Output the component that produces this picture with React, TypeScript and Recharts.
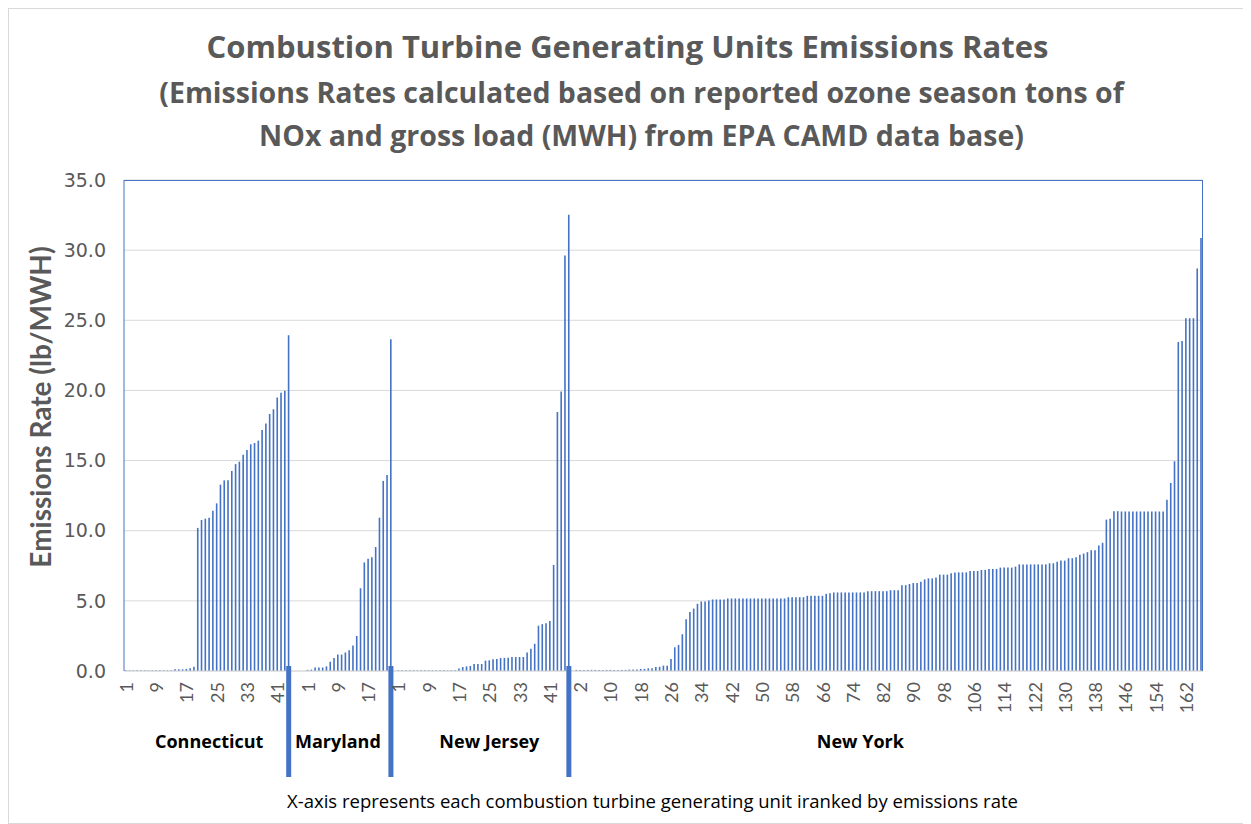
import React from "react";
import { Bar, BarChart, CartesianGrid, XAxis, YAxis } from "recharts";

// ranked emissions rates (lb/MWH) per state, null = empty slot
const ctRates = [
  0.05, 0.05, 0.05, 0.05, 0.05, 0.05, 0.05, 0.05, 0.05, 0.05, 0.05, 0.05, 0.05, 0.12, 0.12, 0.12,
  0.15, 0.2, 0.3, 10.2, 10.76, 10.86, 10.93, 11.43, 11.95, 13.28, 13.59, 13.59, 14.26, 14.75, 14.92,
  15.42, 15.75, 16.16, 16.25, 16.42, 17.18, 17.65, 18.32, 18.65, 19.5, 19.84, 19.98, 23.93,
  null, null, null, null,
];

const mdRates = [
  0.08, 0.1, 0.25, 0.25, 0.25, 0.33, 0.66, 0.92, 1.17, 1.17, 1.32, 1.48, 1.81, 2.5, 5.9, 7.74, 8.0,
  8.1, 8.84, 10.93, 13.55, 13.98, 23.64, null,
];

const njRates = [
  0.05, 0.05, 0.05, 0.05, 0.05, 0.05, 0.05, 0.05, 0.05, 0.05, 0.05, 0.05, 0.05, 0.05, 0.05, 0.06,
  0.18, 0.28, 0.33, 0.36, 0.5, 0.5, 0.5, 0.74, 0.76, 0.84, 0.86, 0.92, 0.93, 0.94, 1.0, 1.0, 1.0, 1.0,
  1.32, 1.58, 1.94, 3.23, 3.34, 3.41, 3.57, 7.56, 18.47, 19.92, 29.62, 32.53, null,
];

const nyRates = [
  0.08, 0.08, 0.08, 0.08, 0.08, 0.08, 0.08, 0.08, 0.08, 0.08, 0.08, 0.08, 0.08, 0.08, 0.1, 0.1, 0.1,
  0.15, 0.15, 0.19, 0.2, 0.29, 0.3, 0.38, 0.38, 0.86, 1.69, 1.86, 2.62, 3.69, 4.21, 4.45, 4.79, 4.95,
  4.96, 5.02, 5.1, 5.1, 5.1, 5.1, 5.17, 5.17, 5.17, 5.17, 5.17, 5.17, 5.17, 5.17, 5.17, 5.17, 5.17,
  5.17, 5.17, 5.17, 5.17, 5.17, 5.26, 5.26, 5.26, 5.26, 5.26, 5.36, 5.36, 5.36, 5.36, 5.36, 5.5, 5.55,
  5.6, 5.6, 5.6, 5.6, 5.6, 5.6, 5.6, 5.6, 5.6, 5.69, 5.69, 5.69, 5.69, 5.69, 5.69, 5.76, 5.76, 5.76,
  6.12, 6.12, 6.2, 6.27, 6.27, 6.36, 6.53, 6.6, 6.6, 6.67, 6.87, 6.87, 6.87, 6.96, 7.03, 7.03, 7.03,
  7.03, 7.13, 7.13, 7.13, 7.2, 7.2, 7.27, 7.27, 7.27, 7.37, 7.37, 7.37, 7.37, 7.44, 7.6, 7.6, 7.6,
  7.6, 7.6, 7.6, 7.6, 7.6, 7.68, 7.68, 7.78, 7.87, 7.87, 8.04, 8.04, 8.11, 8.28, 8.37, 8.47, 8.61,
  8.61, 8.95, 9.14, 10.79, 10.86, 11.39, 11.39, 11.37, 11.37, 11.37, 11.37, 11.37, 11.37, 11.37,
  11.37, 11.37, 11.37, 11.37, 11.37, 12.2, 13.4, 14.95, 23.46, 23.53, 25.14, 25.14, 25.14, 28.7, 30.87,
];

const stateNames = ["Connecticut", "Maryland", "New Jersey", "New York"];
const stateRates = [ctRates, mdRates, njRates, nyRates];
const yTicks = [0, 5, 10, 15, 20, 25, 30, 35];

// unit under which each state name is written
const labelUnit = [23, 9, 25, 76];

const BLUE = "#4472C4";
const GREY = "#595959";
const FONT = "'Open Sans', sans-serif";

type Row = {
  key: string;
  unit: number;
  state: number;
  idx: number;
  rate: number | null;
  divider: boolean;
};

const rows: Row[] = [];
stateRates.forEach((rates, s) => {
  let last = -1;
  rates.forEach((r, i) => {
    if (r !== null) last = i;
  });
  rates.forEach((r, i) => {
    rows.push({
      key: `${s}-${i + 1}`,
      unit: i + 1,
      state: s,
      idx: rows.length,
      rate: r,
      // thick divider after every state except the last one
      divider: i === last && s < stateRates.length - 1,
    });
  });
});
const rowByKey = new Map(rows.map((r) => [r.key, r]));

const UnitTick = (props: any) => {
  const { x, y, payload } = props;
  const row = rowByKey.get(payload.value);
  if (!row) return null;
  const ty = y + 9;
  return (
    <g>
      {row.idx % 8 === 0 && (
        <text
          x={x}
          y={ty}
          transform={`rotate(-90, ${x}, ${ty})`}
          textAnchor="end"
          dominantBaseline="central"
          fill={GREY}
          fontSize={18}
          fontFamily="Lato, sans-serif"
        >
          {row.unit}
        </text>
      )}
      {row.divider && (
        <line x1={x} x2={x} y1={y - 7} y2={y + 104} stroke={BLUE} strokeWidth={5} />
      )}
      {row.unit === labelUnit[row.state] && (
        <text
          x={x}
          y={y + 75}
          textAnchor="middle"
          fill="#000"
          fontSize={18}
          fontWeight="bold"
          fontFamily={FONT}
        >
          {stateNames[row.state]}
        </text>
      )}
    </g>
  );
};

export default function App() {
  return (
    <div
      style={{
        position: "relative",
        width: 1237,
        height: 816,
        border: "1px solid #d9d9d9",
        boxSizing: "border-box",
        background: "#fff",
        fontFamily: FONT,
      }}
    >
      <div style={{ position: "absolute", top: 19, left: 0, width: 1237, textAlign: "center", color: GREY, fontWeight: "bold", fontSize: 31, lineHeight: "36px" }}>
        Combustion Turbine Generating Units Emissions Rates
      </div>
      <div style={{ position: "absolute", top: 62, left: 14, width: 1237, textAlign: "center", color: GREY, fontWeight: "bold", fontSize: 28.5, lineHeight: "43px" }}>
        (Emissions Rates calculated based on reported ozone season tons of
        <br />
        NOx and gross load (MWH) from EPA CAMD data base)
      </div>
      <div
        style={{
          position: "absolute",
          left: 31 - 200,
          top: 398 - 17,
          width: 400,
          height: 34,
          lineHeight: "34px",
          textAlign: "center",
          transform: "rotate(-90deg)",
          color: GREY,
          fontWeight: "bold",
          fontSize: 28,
          fontFamily: "Lato, sans-serif",
        }}
      >
        Emissions Rate (lb/MWH)
      </div>
      <div style={{ position: "absolute", top: 779, left: 25, width: 1237, textAlign: "center", color: "#000", fontSize: 18.5 }}>
        X-axis represents each combustion turbine generating unit iranked by emissions rate
      </div>
      <BarChart
        width={1235}
        height={814}
        data={rows}
        margin={{ top: 171, right: 41, left: 55, bottom: 92 }}
        barSize={1.6}
      >
        <CartesianGrid vertical={false} stroke="#d9d9d9" />
        <XAxis
          dataKey="key"
          interval={0}
          height={60}
          tick={UnitTick}
          tickLine={false}
          tickSize={0}
          axisLine={{ stroke: "#d9d9d9" }}
        />
        <YAxis
          domain={[0, 35]}
          ticks={yTicks}
          width={60}
          tickFormatter={(v: number) => v.toFixed(1)}
          tick={{ fill: GREY, fontSize: 19, fontFamily: "'DejaVu Sans', sans-serif" }}
          tickLine={false}
          tickSize={0}
          tickMargin={18}
          axisLine={{ stroke: BLUE }}
        />
        <Bar dataKey="rate" fill={BLUE} isAnimationActive={false} />
      </BarChart>
      {/* plot area frame: top and right edges */}
      <div
        style={{
          position: "absolute",
          left: 115,
          top: 171,
          width: 1079,
          height: 491,
          borderTop: `1px solid ${BLUE}`,
          borderRight: `1px solid ${BLUE}`,
          boxSizing: "border-box",
          pointerEvents: "none",
        }}
      />
    </div>
  );
}
